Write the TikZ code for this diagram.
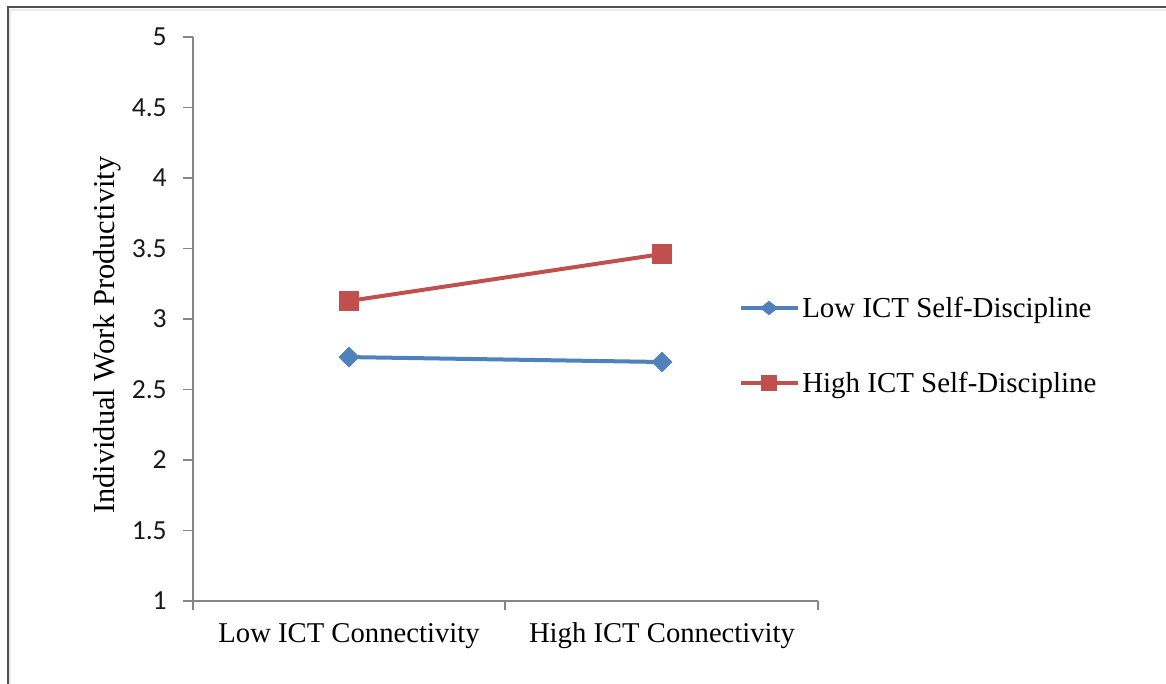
\documentclass[tikz,border=0pt]{standalone}
\usepackage{fontspec}
\setmainfont{Liberation Serif}
\newfontfamily\tickfont{Carlito}
\usetikzlibrary{shapes.geometric}
\definecolor{seriesblue}{HTML}{4F81BD}
\definecolor{seriesred}{HTML}{C0504D}
\definecolor{axisgray}{HTML}{868686}
\definecolor{framegray}{HTML}{505050}

\begin{document}
\begin{tikzpicture}[x=0.75pt,y=-0.75pt,
  axisline/.style={draw=axisgray,line width=1.1pt},
  ticklabel/.style={font=\tickfont\fontsize{20.7pt}{24pt}\selectfont,text=black!90,
    anchor=east,inner sep=0pt,text height=13pt,text depth=0pt},
  catlabel/.style={font=\fontsize{21.5pt}{26pt}\selectfont,anchor=base,inner sep=0pt},
  legendtext/.style={font=\fontsize{21.7pt}{26pt}\selectfont,anchor=base west,inner sep=0pt},
  bluemark/.style={diamond,fill=seriesblue,draw=none,minimum width=15.5pt,
    minimum height=15.5pt,inner sep=0pt},
  redmark/.style={rectangle,fill=seriesred,draw=none,minimum size=15.5pt,inner sep=0pt},
  blueline/.style={draw=seriesblue,line width=3pt},
  redline/.style={draw=seriesred,line width=3pt},
]
\useasboundingbox (0,0) rectangle (1166,684);
\fill[white] (0,0) rectangle (1166,684);

% chart frame (top and left edges)
\draw[black!8,line width=2pt] (10,686) -- (10,10) -- (1166,10);
\draw[framegray,line width=1pt] (8,684) -- (8,7) -- (1166,7);

% value axis with ticks and labels
\draw[axisline] (193,37) -- (193,601) -- (818,601);
\foreach \v in {1,1.5,2,2.5,3,3.5,4,4.5,5}{
  \draw[axisline] (183,{601-(\v-1)*141}) -- (193,{601-(\v-1)*141});
  \node[ticklabel] (tick\v) at (167,{601-(\v-1)*141}) {\v};
}
% category axis ticks
\foreach \xx in {193,505,818}
  \draw[axisline] (\xx,601) -- (\xx,610);

% category labels
\node[catlabel] (catlow) at (349,642) {Low ICT Connectivity};
\node[catlabel] (cathigh) at (662,642) {High ICT Connectivity};

% value axis title
\node[font=\fontsize{22.8pt}{27pt}\selectfont,rotate=90,anchor=base,inner sep=0pt]
  (ytitle) at (114,335) {Individual Work Productivity};

% data markers
\node[bluemark] (bl) at (349,{601-(2.73-1)*141}) {};
\node[bluemark] (bh) at (662,{601-(2.695-1)*141}) {};
\node[redmark] (rl) at (349,{601-(3.128-1)*141}) {};
\node[redmark] (rh) at (662,{601-(3.461-1)*141}) {};

% series lines, with the markers redrawn on top
\draw[blueline] (bl.center) -- (bh.center);
\draw[redline] (rl.center) -- (rh.center);
\node[bluemark] at (bl) {};
\node[bluemark] at (bh) {};
\node[redmark] at (rl) {};
\node[redmark] at (rh) {};

% legend
\coordinate (lba) at (741,308);
\coordinate (lbb) at (798,308);
\coordinate (lra) at (741,383);
\coordinate (lrb) at (798,383);
\draw[blueline] (lba) -- (lbb);
\draw[redline] (lra) -- (lrb);
\node[bluemark,minimum width=14pt,minimum height=11pt] (lbm) at (769,308) {};
\node[redmark,minimum size=12pt] (lrm) at (769,383) {};
\node[legendtext] (lbt) at (802,317) {Low ICT Self-Discipline};
\node[legendtext] (lrt) at (802,392) {High ICT Self-Discipline};
\end{tikzpicture}
\end{document}
